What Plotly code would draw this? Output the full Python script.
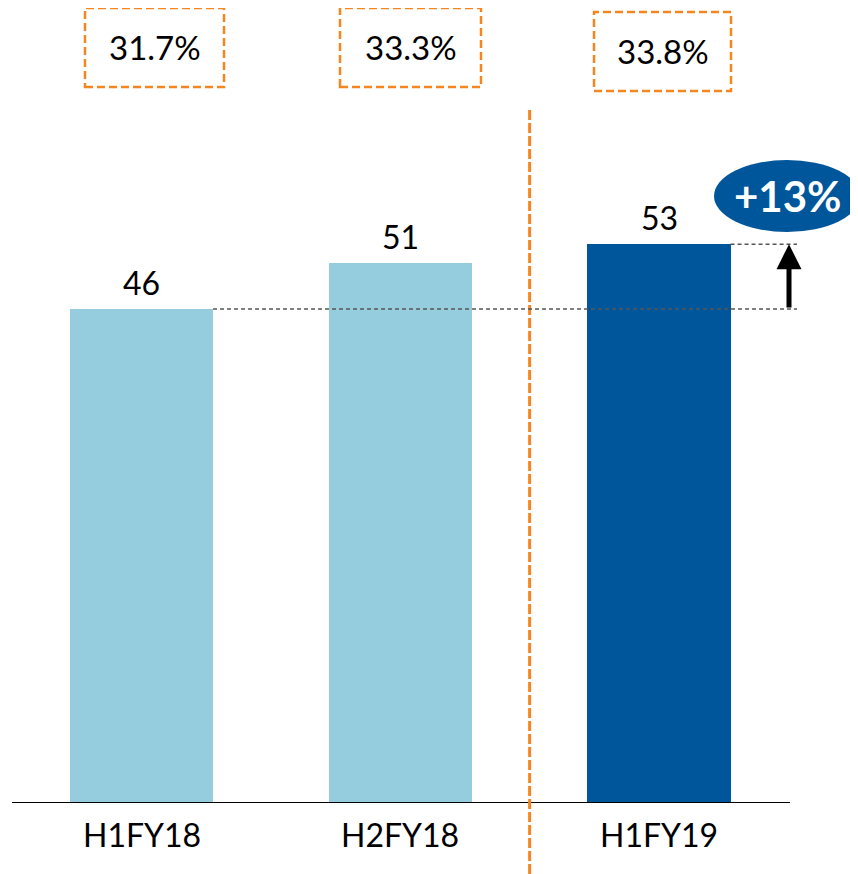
import plotly.graph_objects as go

# ---- data ----
categories = ["H1FY18", "H2FY18", "H1FY19"]
values = [46.5, 50.8, 52.6]          # bar heights
value_labels = ["46", "51", "53"]
margin_labels = ["31.7%", "33.3%", "33.8%"]
growth_label = "+13%"

bar_colors = ["#95CDDE", "#95CDDE", "#00569A"]
ORANGE = "#F5861F"
FONT = "Lato"

OFF = 8                      # page body margin of the html page
W, H = 858 - OFF, 874 - OFF
BASE_PX = 803                # screen pixel y of baseline
PLOT_H = BASE_PX - OFF
X0_PX, STEP_PX = 141.5, 258.75
PX_PER_UNIT = 10.624
YMAX = PLOT_H / PX_PER_UNIT

def xd(px):   # screen pixel x -> data x
    return (px - X0_PX) / STEP_PX

def yp(py):   # screen pixel y -> paper y
    return (BASE_PX - py) / PLOT_H

fig = go.Figure()
fig.add_trace(go.Bar(
    x=list(range(len(categories))), y=values,
    marker=dict(color=bar_colors, line=dict(width=0)),
    width=0.553, hoverinfo="skip",
))

shapes = []
annotations = []

# baseline
shapes.append(dict(type="line", xref="x", yref="y", x0=xd(12), x1=xd(790), y0=0, y1=0,
                   line=dict(color="#000000", width=2)))

# value labels
for i, (v, lab) in enumerate(zip(values, value_labels)):
    annotations.append(dict(x=i, y=v, xref="x", yref="y", text=lab, showarrow=False,
                            yanchor="bottom", yshift=5,
                            font=dict(family=FONT, size=32, color="#000000")))

# category labels
for i, c in enumerate(categories):
    annotations.append(dict(x=i, y=yp(834), xref="x", yref="paper", text=c, showarrow=False,
                            yanchor="middle",
                            font=dict(family=FONT, size=32, color="#000000")))

# margin boxes
box_px = [(85, 224, 8, 87), (340, 481, 8, 87), (594, 731, 12, 91)]
for (l, r, t, b), lab in zip(box_px, margin_labels):
    shapes.append(dict(type="rect", xref="x", yref="paper", x0=xd(l), x1=xd(r),
                       y0=yp(b), y1=yp(t), line=dict(color=ORANGE, width=2.5, dash="8px,4px")))
    annotations.append(dict(x=xd((l + r) / 2), y=yp((t + b) / 2), xref="x", yref="paper",
                            text=lab, showarrow=False, yanchor="middle",
                            font=dict(family=FONT, size=33, color="#000000")))

# vertical orange divider
shapes.append(dict(type="line", xref="x", yref="paper", x0=1.5, x1=1.5,
                   y0=yp(874), y1=yp(110), line=dict(color=ORANGE, width=3, dash="10px,3px")))

# dashed reference lines
shapes.append(dict(type="line", xref="x", yref="y", x0=0 + 0.553 / 2, x1=xd(797),
                   y0=values[0], y1=values[0], line=dict(color="#555555", width=1.5, dash="4px,3px")))
shapes.append(dict(type="line", xref="x", yref="y", x0=2 + 0.553 / 2, x1=xd(797),
                   y0=values[2], y1=values[2], line=dict(color="#555555", width=1.5, dash="4px,3px")))

# growth arrow
annotations.append(dict(x=xd(789), y=values[2], ax=xd(789), ay=values[0],
                        xref="x", yref="y", axref="x", ayref="y", text="",
                        showarrow=True, arrowhead=2, arrowsize=1, arrowwidth=5,
                        arrowcolor="#000000", standoff=0, startstandoff=0))

# growth ellipse
shapes.append(dict(type="circle", xref="x", yref="paper", x0=xd(714), x1=xd(860),
                   y0=yp(232), y1=yp(160), fillcolor="#00569A", line=dict(width=0)))
annotations.append(dict(x=xd(788), y=yp(196), xref="x", yref="paper", text="<b>" + growth_label + "</b>",
                        showarrow=False, yanchor="middle",
                        font=dict(family=FONT, size=42, color="#FFFFFF")))

fig.update_layout(
    width=W, height=H,
    margin=dict(l=0, r=0, t=0, b=H - PLOT_H, pad=0),
    paper_bgcolor="white", plot_bgcolor="white",
    showlegend=False, bargap=0,
    shapes=shapes, annotations=annotations,
    xaxis=dict(range=[xd(OFF), xd(858)], showgrid=False, zeroline=False, showline=False,
               showticklabels=False, ticks=""),
    yaxis=dict(range=[0, YMAX], showgrid=False, zeroline=False, showline=False,
               showticklabels=False, ticks=""),
)

fig.write_html("out.html")
